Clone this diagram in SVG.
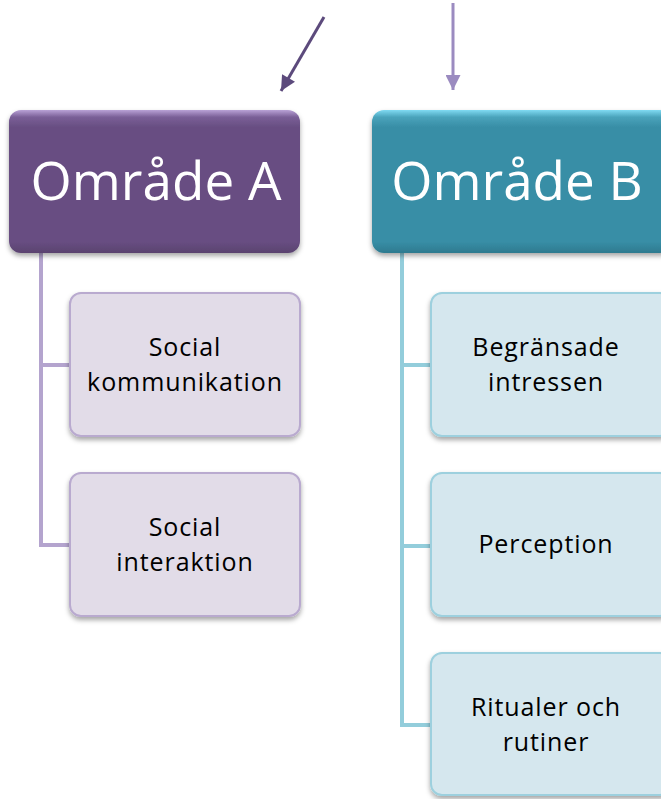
<svg xmlns="http://www.w3.org/2000/svg" width="661" height="799" viewBox="0 0 661 799">
  <defs>
    <filter id="shadow" x="-10%" y="-10%" width="120%" height="130%">
      <feDropShadow dx="0" dy="3" stdDeviation="2.5" flood-color="#000" flood-opacity="0.35"/>
    </filter>
    <linearGradient id="gradA" x1="0" y1="0" x2="0" y2="1">
      <stop offset="0" stop-color="#b9a2d6"/>
      <stop offset="0.05" stop-color="#7a5f97"/>
      <stop offset="0.12" stop-color="#684e82"/>
      <stop offset="0.92" stop-color="#684e82"/>
      <stop offset="1" stop-color="#5a426f"/>
    </linearGradient>
    <linearGradient id="gradB" x1="0" y1="0" x2="0" y2="1">
      <stop offset="0" stop-color="#7fdaf2"/>
      <stop offset="0.05" stop-color="#4aa3bb"/>
      <stop offset="0.12" stop-color="#388ea6"/>
      <stop offset="0.92" stop-color="#388ea6"/>
      <stop offset="1" stop-color="#2e7a8f"/>
    </linearGradient>
    <marker id="headDark" viewBox="0 0 10 10" refX="10" refY="5" markerWidth="5.5" markerHeight="5" orient="auto" markerUnits="strokeWidth">
      <path d="M0,0 L10,5 L0,10 Z" fill="#5c4a7c"/>
    </marker>
    <marker id="headLight" viewBox="0 0 10 10" refX="10" refY="5" markerWidth="5.5" markerHeight="5" orient="auto" markerUnits="strokeWidth">
      <path d="M0,0 L10,5 L0,10 Z" fill="#9b8bc0"/>
    </marker>
    <style>
      .head { font-family: "Open Sans", "DejaVu Sans", sans-serif; font-size: 53px; fill: #ffffff; text-anchor: middle; }
      .label { font-family: "Open Sans", "DejaVu Sans", sans-serif; font-size: 25px; letter-spacing: 0.9px; fill: #000000; text-anchor: middle; }
      .childA { fill: #e2dce8; stroke: #b9aacf; stroke-width: 2; }
      .childB { fill: #d5e7ee; stroke: #9dd0de; stroke-width: 2; }
      .linkA { fill: none; stroke: #b4a4ce; stroke-width: 4; }
      .linkB { fill: none; stroke: #93cddb; stroke-width: 4; }
    </style>
  </defs>

  <!-- incoming arrows -->
  <g id="arrows">
    <line x1="324" y1="17" x2="281" y2="91" stroke="#5c4a7c" stroke-width="3" marker-end="url(#headDark)"/>
    <line x1="453" y1="3" x2="453" y2="90" stroke="#9b8bc0" stroke-width="3" marker-end="url(#headLight)"/>
  </g>

  <!-- tree connectors -->
  <g id="connectors">
    <path class="linkA" d="M41,253 V547 M41,365 H70 M41,545 H70"/>
    <path class="linkB" d="M402,253 V727 M402,365 H431 M402,546 H431 M402,725 H431"/>
  </g>

  <g id="omrade-a">
    <rect x="9" y="110" width="291" height="143" rx="12" fill="url(#gradA)" filter="url(#shadow)"/>
    <text class="head" x="156" y="200">Område A</text>
  </g>

  <g id="omrade-b">
    <rect x="372" y="110" width="300" height="143" rx="12" fill="url(#gradB)" filter="url(#shadow)"/>
    <text class="head" x="517" y="200">Område B</text>
  </g>

  <g id="social-kommunikation">
    <rect class="childA" x="70" y="293" width="230" height="143" rx="11" filter="url(#shadow)"/>
    <text class="label" x="185" y="356">Social</text>
    <text class="label" x="185" y="391">kommunikation</text>
  </g>

  <g id="social-interaktion">
    <rect class="childA" x="70" y="473" width="230" height="143" rx="11" filter="url(#shadow)"/>
    <text class="label" x="185" y="536">Social</text>
    <text class="label" x="185" y="571">interaktion</text>
  </g>

  <g id="begransade-intressen">
    <rect class="childB" x="431" y="293" width="240" height="143" rx="11" filter="url(#shadow)"/>
    <text class="label" x="546" y="356">Begränsade</text>
    <text class="label" x="546" y="391">intressen</text>
  </g>

  <g id="perception">
    <rect class="childB" x="431" y="473" width="240" height="143" rx="11" filter="url(#shadow)"/>
    <text class="label" x="546" y="553">Perception</text>
  </g>

  <g id="ritualer-och-rutiner">
    <rect class="childB" x="431" y="653" width="240" height="142" rx="11" filter="url(#shadow)"/>
    <text class="label" x="546" y="716">Ritualer och</text>
    <text class="label" x="546" y="751">rutiner</text>
  </g>
</svg>
